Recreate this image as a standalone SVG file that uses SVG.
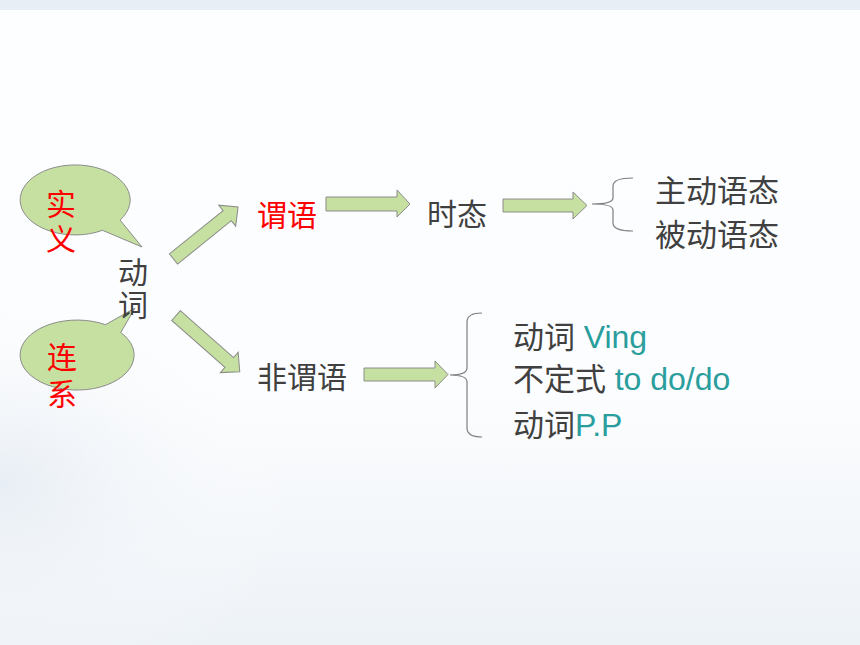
<svg xmlns="http://www.w3.org/2000/svg" width="860" height="645" viewBox="0 0 860 645">
  <style>
    .t { font-family: "Liberation Sans", "Noto Sans CJK SC", sans-serif; font-size: 30px; fill: #404040; }
    .red { fill: #ff0000; }
    .teal { fill: #2a9d9d; font-size: 32px; }
    .bubble { fill: #c5e0a0; stroke: #8c8c8c; stroke-width: 1; }
    .arrow { fill: #c5e0a0; stroke: #8c8c8c; stroke-width: 1; }
    .brace { fill: none; stroke: #7f7f7f; stroke-width: 1.2; }
  </style>
  <defs>
    <linearGradient id="bgv" x1="0" y1="0" x2="0" y2="1">
      <stop offset="0" stop-color="#fdfeff"/>
      <stop offset="0.6" stop-color="#fcfdfe"/>
      <stop offset="1" stop-color="#edf2f7"/>
    </linearGradient>
    <radialGradient id="bgl" cx="0" cy="0.75" r="0.35">
      <stop offset="0" stop-color="#e4ebf3" stop-opacity="0.8"/>
      <stop offset="1" stop-color="#ffffff" stop-opacity="0"/>
    </radialGradient>
  </defs>

  <g id="background">
    <rect x="0" y="0" width="860" height="645" fill="url(#bgv)"/>
    <rect x="0" y="0" width="860" height="645" fill="url(#bgl)"/>
    <rect x="0" y="0" width="860" height="10" fill="#e8eef5"/>
  </g>

  <g id="connectors">
    <polygon class="arrow" transform="translate(173.5,259) rotate(-38.9)" points="0,-6.5 69,-6.5 69,-13.5 83,0 69,13.5 69,6.5 0,6.5"/>
    <polygon class="arrow" transform="translate(176,315.5) rotate(41.4)" points="0,-6.5 71,-6.5 71,-13.5 85,0 71,13.5 71,6.5 0,6.5"/>
    <polygon class="arrow" points="326,197 397,197 397,190 410,204 397,217 397,211 326,211"/>
    <polygon class="arrow" points="503,199 573,199 573,192 587,205.5 573,219 573,212 503,212"/>
    <polygon class="arrow" points="364,368 435,368 435,361 448,374.5 435,388 435,381 364,381"/>
    <path class="brace" d="M633,178 Q613,178 613,186 L613,198 Q613,204 592,204 Q613,204 613,210 L613,223 Q613,231 633,231"/>
    <path class="brace" d="M482,313 Q467,313 467,322 L467,368 Q467,375 450,375 Q467,375 467,382 L467,428 Q467,437 482,437"/>
  </g>

  <g id="node-shiyi">
    <path class="bubble" d="M120.1,220.1 A55,35 0 1 0 102.5,230.3 L142,247 Z"/>
    <text class="t red" x="46" y="215">实</text>
    <text class="t red" x="46" y="250">义</text>
  </g>

  <g id="node-lianxi">
    <path class="bubble" d="M105.5,324.7 A57,35 0 1 0 120.7,332.5 L135,308 Z"/>
    <text class="t red" x="47" y="368">连</text>
    <text class="t red" x="47" y="405">系</text>
  </g>

  <g id="node-dongci">
    <text class="t" x="118" y="283">动</text>
    <text class="t" x="118" y="316">词</text>
  </g>

  <g id="node-weiyu">
    <text class="t red" x="257" y="226">谓语</text>
  </g>

  <g id="node-shitai">
    <text class="t" x="427" y="225">时态</text>
  </g>

  <g id="node-voice">
    <text class="t" x="655" y="202" style="font-size:31px">主动语态</text>
    <text class="t" x="655" y="246" style="font-size:31px">被动语态</text>
  </g>

  <g id="node-feiweiyu">
    <text class="t" x="257" y="388">非谓语</text>
  </g>

  <g id="node-nonfinite">
    <text class="t" x="513" y="348" style="font-size:31px">动词 <tspan class="teal">Ving</tspan></text>
    <text class="t" x="513" y="390" style="font-size:31px">不定式 <tspan class="teal">to do/do</tspan></text>
    <text class="t" x="513" y="436" style="font-size:31px">动词<tspan class="teal">P.P</tspan></text>
  </g>
</svg>
